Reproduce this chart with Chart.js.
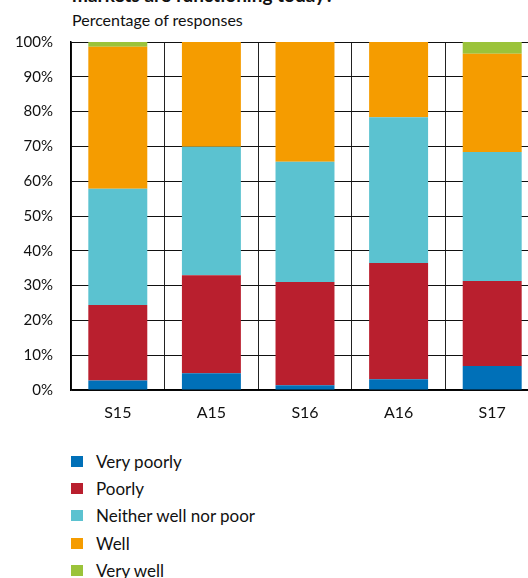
<!DOCTYPE html>
<html>
<head>
<meta charset="utf-8">
<script src="https://cdn.jsdelivr.net/npm/chart.js@4/dist/chart.umd.min.js"></script>
<style>
  html, body { margin: 0; padding: 0; background: #fff; overflow: hidden; }
  body { width: 528px; height: 578px; position: relative; font-family: Lato, "Open Sans", sans-serif; color: #111; }
  #title { position: absolute; left: 72px; top: -16px; font-weight: bold; font-size: 19px; line-height: 21px; white-space: nowrap; }
  #subtitle { position: absolute; left: 72px; top: 11px; font-size: 16px; line-height: 18px; white-space: nowrap; }
  #wrap { position: absolute; left: 0; top: 0; width: 539px; height: 430px; }
  #legend { position: absolute; left: 71px; top: 448px; }
  .item { height: 27.2px; display: flex; align-items: center; font-size: 17px; white-space: nowrap; }
  .box { width: 12px; height: 11px; margin-right: 13px; }
</style>
</head>
<body>
<div id="title">markets are functioning today?</div>
<div id="subtitle">Percentage of responses</div>
<div id="wrap"><canvas id="chart"></canvas></div>
<div id="legend"></div>
<script>
var surveys = ['S15', 'A15', 'S16', 'A16', 'S17'];
var seriesNames = ['Very poorly', 'Poorly', 'Neither well nor poor', 'Well', 'Very well'];
var seriesColors = ['#0070b8', '#b91f2e', '#5bc2d0', '#f59c00', '#9bc33a'];

var veryPoorly = [2.7, 4.8, 1.4, 3.1, 6.9];
var poorly = [21.7, 28.2, 29.6, 33.4, 24.4];
var neither = [33.4, 36.9, 34.6, 41.9, 37.1];
var well = [40.8, 30.1, 34.4, 21.6, 28.2];
var veryWell = [1.4, 0, 0, 0, 3.4];

var yTicks = [0, 10, 20, 30, 40, 50, 60, 70, 80, 90, 100];

var seriesValues = [veryPoorly, poorly, neither, well, veryWell];
var datasets = seriesValues.map(function (vals, i) {
  return {
    label: seriesNames[i],
    data: vals,
    backgroundColor: seriesColors[i],
    borderWidth: 0,
    barPercentage: 0.63,
    categoryPercentage: 1
  };
});

var ctx = document.getElementById('chart').getContext('2d');
var chart = new Chart(ctx, {
  type: 'bar',
  data: {
    labels: surveys,
    datasets: datasets
  },
  options: {
    responsive: true,
    maintainAspectRatio: false,
    animation: false,
    layout: {
      padding: { top: 42, left: 0, right: 0, bottom: 0 }
    },
    plugins: {
      legend: { display: false },
      title: { display: false },
      tooltip: { enabled: false }
    },
    scales: {
      x: {
        stacked: true,
        offset: true,
        afterFit: function (scale) { scale.height = 40; },
        grid: {
          offset: true,
          color: '#222',
          lineWidth: 1,
          drawTicks: false
        },
        border: { color: '#000', width: 1.5 },
        ticks: {
          color: '#111',
          padding: 13,
          font: { family: 'Lato', size: 16 }
        }
      },
      y: {
        stacked: true,
        min: 0,
        max: 100,
        afterFit: function (scale) { scale.width = 71; },
        afterBuildTicks: function (scale) {
          scale.ticks = yTicks.map(function (v) { return { value: v }; });
        },
        grid: {
          color: '#111',
          lineWidth: 1,
          drawTicks: false
        },
        border: { color: '#000', width: 1.5 },
        ticks: {
          color: '#111',
          padding: 18,
          font: { family: 'Lato', size: 15 },
          callback: function (v) { return v + '%'; }
        }
      }
    }
  }
});

var legend = document.getElementById('legend');
chart.data.datasets.forEach(function (ds) {
  var row = document.createElement('div');
  row.className = 'item';
  var box = document.createElement('span');
  box.className = 'box';
  box.style.background = ds.backgroundColor;
  var txt = document.createElement('span');
  txt.textContent = ds.label;
  row.appendChild(box);
  row.appendChild(txt);
  legend.appendChild(row);
});
</script>
</body>
</html>
